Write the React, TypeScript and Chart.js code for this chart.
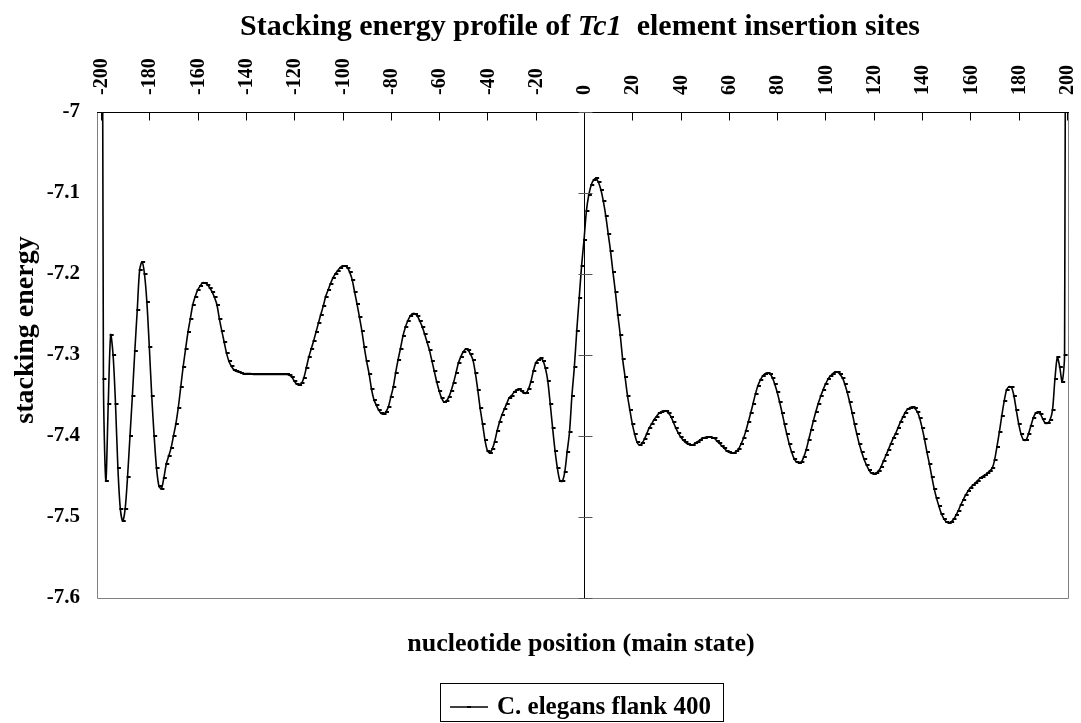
import React, { useEffect, useRef } from "react";
import { Chart, registerables } from "chart.js";

Chart.register(...registerables);

const FONT = '"Liberation Serif", "Times New Roman", serif';

const TITLE_START = "Stacking energy profile of ";
const TITLE_ITALIC = "Tc1";
const TITLE_END = "  element insertion sites";
const X_TITLE = "nucleotide position (main state)";
const Y_TITLE = "stacking energy";
const SERIES_NAME = "C. elegans flank 400";

const X_TICKS = [-200, -180, -160, -140, -120, -100, -80, -60, -40, -20, 0, 20, 40, 60, 80, 100, 120, 140, 160, 180, 200];
const X_TICK_LABELS = ["-200", "-180", "-160", "-140", "-120", "-100", "-80", "-60", "-40", "-20", "0", "20", "40", "60", "80", "100", "120", "140", "160", "180", "200"];
const Y_TICKS = [-7, -7.1, -7.2, -7.3, -7.4, -7.5, -7.6];
const Y_TICK_LABELS = ["-7", "-7.1", "-7.2", "-7.3", "-7.4", "-7.5", "-7.6"];

// positions -200 .. -1
const UPSTREAM_START = -200;
const upstream = [
  -6.0, -7.33, -7.455, -7.36, -7.275, -7.3, -7.36, -7.44, -7.49, -7.505,
  -7.49, -7.45, -7.4, -7.35, -7.295, -7.245, -7.195, -7.185, -7.2, -7.235,
  -7.29, -7.35, -7.4, -7.44, -7.462, -7.465, -7.452, -7.435, -7.425, -7.415,
  -7.4, -7.385, -7.365, -7.34, -7.315, -7.293, -7.272, -7.255, -7.238, -7.228,
  -7.22, -7.215, -7.211, -7.211, -7.213, -7.217, -7.222, -7.229, -7.238, -7.255,
  -7.27, -7.284, -7.298, -7.308, -7.314, -7.318, -7.32, -7.321, -7.322, -7.323,
  -7.323, -7.323, -7.323, -7.324, -7.324, -7.324, -7.324, -7.324, -7.324, -7.324,
  -7.324, -7.324, -7.324, -7.324, -7.324, -7.324, -7.324, -7.324, -7.325, -7.327,
  -7.332, -7.336, -7.337, -7.335, -7.328, -7.316, -7.303, -7.293, -7.283, -7.272,
  -7.261, -7.25, -7.24, -7.228, -7.22, -7.212, -7.205, -7.2, -7.196, -7.192,
  -7.19, -7.19, -7.192, -7.198, -7.207, -7.222, -7.237, -7.253, -7.27, -7.29,
  -7.308, -7.323, -7.342, -7.355, -7.362, -7.368, -7.372, -7.373, -7.37, -7.364,
  -7.352, -7.34, -7.322, -7.306, -7.292, -7.277, -7.266, -7.258, -7.252, -7.249,
  -7.249, -7.252, -7.258, -7.265, -7.274, -7.284, -7.294, -7.307, -7.32, -7.333,
  -7.344, -7.353, -7.358, -7.357, -7.352, -7.344, -7.334, -7.322, -7.31, -7.302,
  -7.296, -7.293, -7.294, -7.299, -7.306, -7.322, -7.343, -7.366, -7.385, -7.405,
  -7.418, -7.421, -7.416, -7.407, -7.394, -7.383, -7.374, -7.367, -7.36, -7.353,
  -7.35, -7.346, -7.343, -7.342, -7.344, -7.347, -7.347, -7.342, -7.333, -7.32,
  -7.31, -7.306, -7.304, -7.307, -7.316, -7.332, -7.36, -7.39, -7.418, -7.44,
  -7.455, -7.456, -7.445, -7.42, -7.395, -7.35, -7.315, -7.27, -7.23, -7.19,
];

// positions 0 .. 200
const DOWNSTREAM_START = 0;
const downstream = [
  -7.158, -7.122, -7.102, -7.09, -7.084, -7.082, -7.087, -7.096, -7.11, -7.128,
  -7.15, -7.172, -7.198, -7.222, -7.25, -7.275, -7.305, -7.327, -7.35, -7.368,
  -7.385, -7.398, -7.408, -7.411, -7.409, -7.404, -7.397, -7.39, -7.385, -7.38,
  -7.376, -7.372, -7.37, -7.369, -7.369, -7.372, -7.376, -7.383, -7.39, -7.396,
  -7.401, -7.405, -7.408, -7.41, -7.411, -7.411, -7.409, -7.407, -7.405, -7.403,
  -7.402, -7.401, -7.401, -7.402, -7.403, -7.406, -7.409, -7.412, -7.415, -7.418,
  -7.42, -7.421, -7.421, -7.419, -7.416, -7.41, -7.403, -7.394, -7.383, -7.372,
  -7.36, -7.348, -7.338, -7.331, -7.326, -7.323, -7.322, -7.323, -7.328, -7.336,
  -7.346, -7.358, -7.371, -7.385, -7.398, -7.41, -7.42, -7.428, -7.432, -7.433,
  -7.432, -7.426, -7.417, -7.405, -7.393, -7.381, -7.37, -7.36, -7.351, -7.343,
  -7.336, -7.33, -7.326, -7.323, -7.321, -7.321, -7.324, -7.328, -7.336, -7.346,
  -7.358, -7.371, -7.385, -7.398, -7.41, -7.42, -7.429, -7.436, -7.442, -7.446,
  -7.447, -7.446, -7.443, -7.438, -7.431, -7.424, -7.417, -7.41, -7.403, -7.397,
  -7.39, -7.383, -7.377, -7.371, -7.367, -7.365, -7.364, -7.366, -7.37, -7.378,
  -7.39, -7.404, -7.42, -7.434, -7.45, -7.465, -7.477, -7.487, -7.496, -7.502,
  -7.506, -7.507, -7.506, -7.503, -7.498, -7.492, -7.485, -7.479, -7.473, -7.468,
  -7.464, -7.461, -7.458, -7.455, -7.452, -7.45, -7.448, -7.446, -7.443, -7.44,
  -7.43, -7.413, -7.395, -7.375, -7.357, -7.343, -7.339, -7.34, -7.35, -7.368,
  -7.385, -7.398, -7.405, -7.405, -7.398, -7.388, -7.378, -7.372, -7.37, -7.373,
  -7.379, -7.384, -7.384, -7.38, -7.368, -7.33, -7.303, -7.315, -7.333, -7.3,
  -6.0,
];

function makeMarker(): HTMLCanvasElement {
  const c = document.createElement("canvas");
  c.width = 8;
  c.height = 2;
  const g = c.getContext("2d")!;
  g.fillStyle = "#000";
  g.fillRect(3, 0, 4, 2);
  return c;
}

const decorPlugin = {
  id: "excelDecor",
  beforeDatasetsDraw(chart: any) {
    const { ctx, chartArea } = chart;
    const l = Math.round(chartArea.left) + 0.5;
    const r = Math.round(chartArea.right) - 0.5;
    const b = Math.round(chartArea.bottom) + 0.5;
    const t = Math.round(chartArea.top) + 0.5;
    ctx.save();
    ctx.strokeStyle = "#808080";
    ctx.lineWidth = 1;
    ctx.beginPath();
    ctx.moveTo(l, t);
    ctx.lineTo(l, b);
    ctx.lineTo(r, b);
    ctx.lineTo(r, t);
    ctx.stroke();
    ctx.restore();
  },
  afterDatasetsDraw(chart: any) {
    const { ctx, chartArea, scales } = chart;
    const xs = scales.x;
    const ys = scales.y;
    const t = Math.round(chartArea.top) + 0.5;
    ctx.save();
    ctx.strokeStyle = "#000";
    ctx.lineWidth = 1;
    // top x-axis line
    ctx.beginPath();
    ctx.moveTo(chartArea.left, t);
    ctx.lineTo(chartArea.right, t);
    ctx.stroke();
    // inside tick marks
    ctx.beginPath();
    for (const v of X_TICKS) {
      const px = Math.round(xs.getPixelForValue(v)) + 0.5;
      ctx.moveTo(px, t);
      ctx.lineTo(px, t + 8);
    }
    ctx.stroke();
    // value axis crossing at position 0
    const x0 = Math.round(xs.getPixelForValue(0)) + 0.5;
    ctx.beginPath();
    ctx.moveTo(x0, chartArea.top);
    ctx.lineTo(x0, chartArea.bottom);
    ctx.stroke();
    ctx.strokeStyle = "#555";
    ctx.beginPath();
    for (const v of Y_TICKS) {
      const py = Math.round(ys.getPixelForValue(v)) + 0.5;
      ctx.moveTo(x0 - 6, py);
      ctx.lineTo(x0 + 8, py);
    }
    ctx.stroke();
    ctx.restore();
  },
  afterDraw(chart: any) {
    const { ctx, chartArea, scales } = chart;
    const xs = scales.x;
    ctx.save();
    ctx.fillStyle = "#000";

    // x tick labels (rotated, reading upwards, above the top axis)
    ctx.font = `bold 20px ${FONT}`;
    ctx.textAlign = "left";
    ctx.textBaseline = "middle";
    X_TICKS.forEach((v, i) => {
      const px = xs.getPixelForValue(v);
      ctx.save();
      ctx.translate(px + 1, chartArea.top - 17);
      ctx.rotate(-Math.PI / 2);
      ctx.fillText(X_TICK_LABELS[i], 0, 0);
      ctx.restore();
    });

    ctx.textBaseline = "alphabetic";
    // title
    const tSize = 30;
    ctx.font = `bold ${tSize}px ${FONT}`;
    const w1 = ctx.measureText(TITLE_START).width;
    const w3 = ctx.measureText(TITLE_END).width;
    ctx.font = `italic bold ${tSize}px ${FONT}`;
    const w2 = ctx.measureText(TITLE_ITALIC).width;
    let tx = 580 - (w1 + w2 + w3) / 2;
    const ty = 35;
    ctx.textAlign = "left";
    ctx.font = `bold ${tSize}px ${FONT}`;
    ctx.fillText(TITLE_START, tx, ty);
    tx += w1;
    ctx.font = `italic bold ${tSize}px ${FONT}`;
    ctx.fillText(TITLE_ITALIC, tx, ty);
    tx += w2;
    ctx.font = `bold ${tSize}px ${FONT}`;
    ctx.fillText(TITLE_END, tx, ty);

    // x title
    ctx.textAlign = "center";
    ctx.font = `bold 26px ${FONT}`;
    ctx.fillText(X_TITLE, 581, 651);

    // y title
    ctx.save();
    ctx.translate(33, 330);
    ctx.rotate(-Math.PI / 2);
    ctx.font = `bold 28px ${FONT}`;
    ctx.fillText(Y_TITLE, 0, 0);
    ctx.restore();

    // legend
    ctx.strokeStyle = "#000";
    ctx.lineWidth = 1;
    ctx.strokeRect(440.5, 683.5, 283, 38);
    ctx.lineWidth = 1.5;
    ctx.beginPath();
    ctx.moveTo(450, 707);
    ctx.lineTo(488, 707);
    ctx.stroke();
    ctx.fillRect(467, 706, 4, 2);
    ctx.textAlign = "left";
    ctx.font = `bold 25px ${FONT}`;
    ctx.fillText(SERIES_NAME, 497, 714);
    ctx.restore();
  },
};

export default function App() {
  const ref = useRef<HTMLCanvasElement>(null);
  useEffect(() => {
    if (!ref.current) return;
    const points = [
      ...upstream.map((v, i) => ({ x: UPSTREAM_START + i, y: v })),
      ...downstream.map((v, i) => ({ x: DOWNSTREAM_START + i, y: v })),
    ];
    const marker = makeMarker();
    const chart = new Chart(ref.current, {
      type: "line",
      data: {
        datasets: [
          {
            label: SERIES_NAME,
            data: points,
            borderColor: "#000",
            backgroundColor: "#000",
            borderWidth: 1.6,
            pointStyle: marker as any,
            pointRadius: 2,
            pointHoverRadius: 2,
            tension: 0.3,
            fill: false,
          },
        ],
      },
      options: {
        responsive: false,
        animation: false,
        events: [],
        layout: { padding: { left: 0, top: 0, right: 12, bottom: 125 } },
        plugins: {
          legend: { display: false },
          title: { display: false },
          tooltip: { enabled: false },
        },
        scales: {
          x: {
            type: "linear",
            position: "top",
            min: -201.66,
            max: 200.83,
            afterBuildTicks: (s: any) => {
              s.ticks = X_TICKS.map((v) => ({ value: v }));
            },
            afterFit: (s: any) => {
              s.height = 112;
            },
            grid: { display: false, drawTicks: false },
            border: { display: false },
            ticks: { display: false },
          },
          y: {
            type: "linear",
            position: "left",
            min: -7.6,
            max: -7.0,
            afterBuildTicks: (s: any) => {
              s.ticks = Y_TICKS.map((v) => ({ value: v }));
            },
            afterFit: (s: any) => {
              s.width = 97;
            },
            grid: { display: false, drawTicks: false },
            border: { display: false },
            ticks: {
              padding: 17,
              color: "#000",
              font: { family: FONT, size: 21, weight: "bold" },
              callback: (v: any) => {
                const i = Y_TICKS.findIndex((t) => Math.abs(t - v) < 1e-9);
                return i >= 0 ? Y_TICK_LABELS[i] : "";
              },
            },
          },
        },
      },
      plugins: [decorPlugin],
    });
    return () => chart.destroy();
  }, []);
  return (
    <div style={{ position: "absolute", left: 0, top: 0, width: 1081, height: 723, background: "#fff" }}>
      <canvas ref={ref} width={1081} height={723} style={{ width: 1081, height: 723 }} />
    </div>
  );
}
